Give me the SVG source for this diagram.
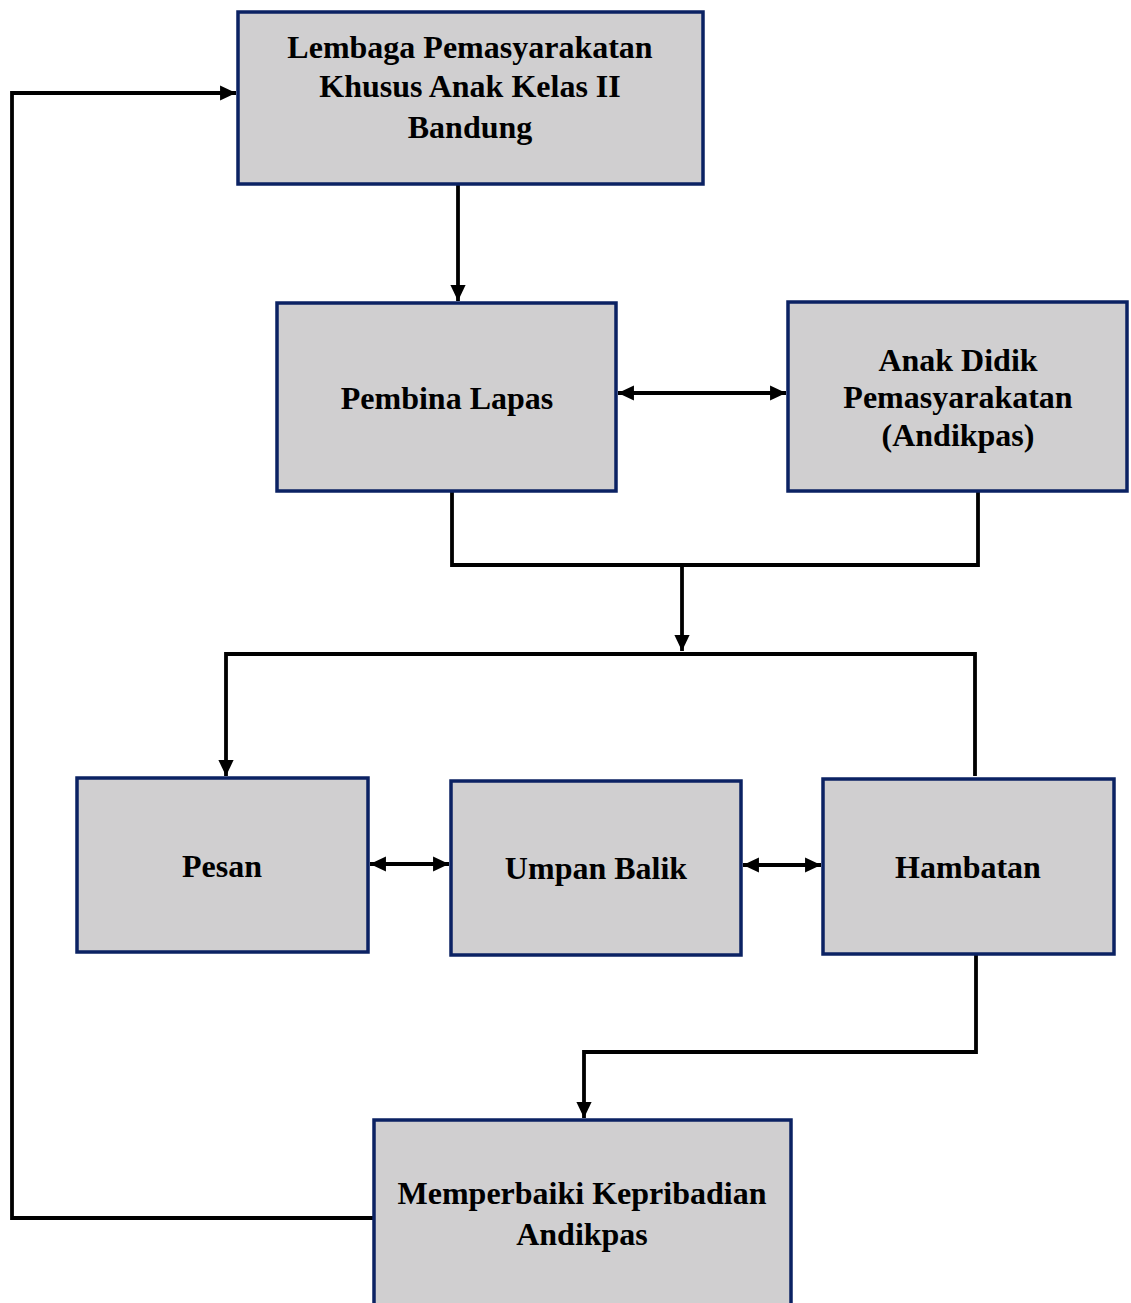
<svg xmlns="http://www.w3.org/2000/svg" width="1131" height="1303" viewBox="0 0 1131 1303">
<style>
.box{fill:#d0cfd0;stroke:#0b2263;stroke-width:3.5}
.t{font-family:"Liberation Serif","Times New Roman",serif;font-weight:bold;font-size:32px;fill:#000;text-anchor:middle}
.c{fill:none;stroke:#000;stroke-width:3.8}
</style>
<defs>
<marker id="ah" markerWidth="4.2" markerHeight="4" refX="4.2" refY="2" orient="auto-start-reverse" markerUnits="strokeWidth">
<path d="M0,0 L4.2,2 L0,4 Z" fill="#000"/>
</marker>
</defs>
<rect width="1131" height="1303" fill="#fff"/>
<g id="connectors">
<path class="c" d="M458,184 V301" marker-end="url(#ah)"/>
<path class="c" d="M618,393 H786" marker-start="url(#ah)" marker-end="url(#ah)"/>
<path class="c" d="M452,491 V565 H978 V491"/>
<path class="c" d="M682,563 V651" marker-end="url(#ah)"/>
<path class="c" d="M226,776 V654 H975 V776" marker-start="url(#ah)"/>
<path class="c" d="M370,864 H449" marker-start="url(#ah)" marker-end="url(#ah)"/>
<path class="c" d="M743,865 H821" marker-start="url(#ah)" marker-end="url(#ah)"/>
<path class="c" d="M976,954 V1052 H584 V1118" marker-end="url(#ah)"/>
<path class="c" d="M374,1218 H12 V93 H236" marker-end="url(#ah)"/>
</g>
<g id="lembaga">
<rect class="box" x="238" y="12" width="465" height="172"/>
<text class="t" x="470" y="58">Lembaga Pemasyarakatan</text>
<text class="t" x="470" y="97">Khusus Anak Kelas II</text>
<text class="t" x="470" y="138">Bandung</text>
</g>
<g id="pembina">
<rect class="box" x="277" y="303" width="339" height="188"/>
<text class="t" x="447" y="409">Pembina Lapas</text>
</g>
<g id="andikpas">
<rect class="box" x="788" y="302" width="339" height="189"/>
<text class="t" x="958" y="371">Anak Didik</text>
<text class="t" x="958" y="408">Pemasyarakatan</text>
<text class="t" x="958" y="446">(Andikpas)</text>
</g>
<g id="pesan">
<rect class="box" x="77" y="778" width="291" height="174"/>
<text class="t" x="222" y="877">Pesan</text>
</g>
<g id="umpan">
<rect class="box" x="451" y="781" width="290" height="174"/>
<text class="t" x="596" y="879">Umpan Balik</text>
</g>
<g id="hambatan">
<rect class="box" x="823" y="779" width="291" height="175"/>
<text class="t" x="968" y="878">Hambatan</text>
</g>
<g id="memperbaiki">
<rect class="box" x="374" y="1120" width="417" height="195"/>
<text class="t" x="582" y="1204">Memperbaiki Kepribadian</text>
<text class="t" x="582" y="1245">Andikpas</text>
</g>
</svg>
